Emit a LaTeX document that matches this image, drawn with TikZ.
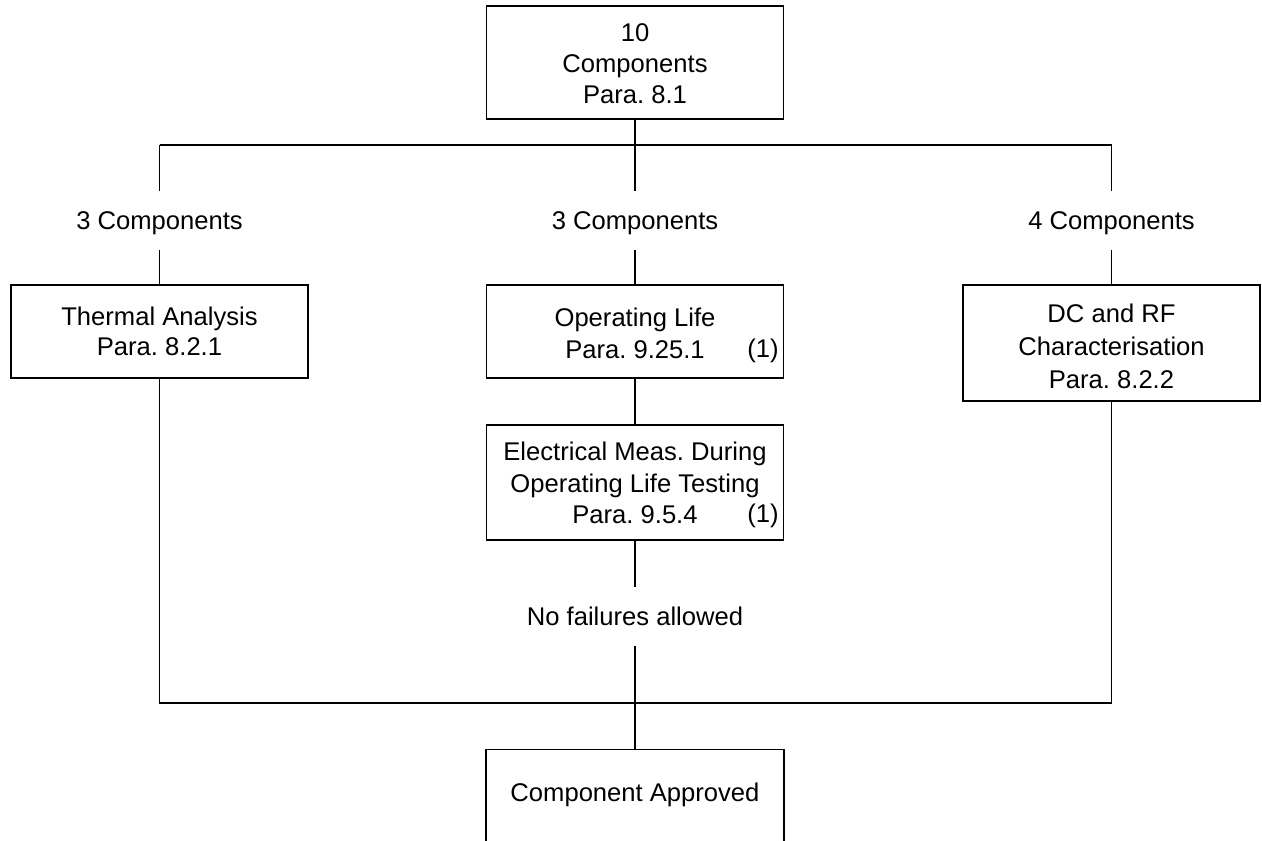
\documentclass[tikz,border=0pt]{standalone}
\usepackage{fontspec}
\setmainfont{Liberation Sans}
\frenchspacing
\begin{document}
\begin{tikzpicture}[x=1pt,y=-1pt,
  line width=1.4pt,
  boxnode/.style={draw, line width=1.5pt, minimum width=297pt, inner sep=0pt},
  txt/.style={inner sep=0pt, align=center, anchor=north, text depth=0pt},
  lbl/.style={inner sep=0pt, minimum height=57pt, text depth=0pt, font=\fontsize{25.6}{31}\selectfont},
  refmark/.style={inner sep=0pt, anchor=base, font=\fontsize{25.6}{31}\selectfont}]
\useasboundingbox (0,0) rectangle (1262,841);

% boxes
\node[boxnode, minimum height=113pt] (top) at (635,62.5) {};
\node[boxnode, minimum height=93pt] (thermal) at (159.5,331.5) {};
\node[boxnode, minimum height=93pt] (oplife) at (635,331.5) {};
\node[boxnode, minimum height=116pt] (rf) at (1111.5,343) {};
\node[boxnode, minimum height=115pt] (elec) at (635,482.5) {};
\node[inner sep=0pt, minimum width=297pt, minimum height=91pt, text depth=7pt,
      font=\fontsize{25.6}{31}\selectfont] (appr) at (635,795.5) {Component Approved};
\draw[line width=1.5pt] (appr.south west) |- (appr.north east) -- (appr.south east);

% box texts
\node[txt, font=\fontsize{25.6}{31}\selectfont] (ttop) at (635,22.7) {10\\Components\\Para. 8.1};
\node[txt, font=\fontsize{25.6}{30.7}\selectfont] (tthermal) at (159.5,306) {Thermal Analysis\\Para. 8.2.1};
\node[txt, font=\fontsize{25.6}{32}\selectfont] (toplife) at (635,307) {Operating Life\\Para. 9.25.1};
\node[txt, font=\fontsize{25.6}{32.8}\selectfont] (trf) at (1111.5,303.3) {DC and RF\\Characterisation\\Para. 8.2.2};
\node[txt, font=\fontsize{25.6}{31.5}\selectfont] (telec) at (635,441.7) {Electrical Meas. During\\Operating Life Testing\\Para. 9.5.4};
\node[refmark] (ref1) at (763,357.5) {(1)};
\node[refmark] (ref2) at (763,522.5) {(1)};

% labels
\node[lbl] (lblL) at (159.5,220.5) {3 Components};
\node[lbl] (lblM) at (635,220.5) {3 Components};
\node[lbl] (lblR) at (1111.5,220.5) {4 Components};
\node[lbl] (nofail) at (635,616.5) {No failures allowed};

% bus coordinates
\coordinate (busL) at (159.5,145);
\coordinate (busM) at (635,145);
\coordinate (busR) at (1111.5,145);
\coordinate (bbL) at (159.5,703);
\coordinate (bbR) at (1111.5,703);

% connectors
\draw (top.south) -- (busM);
\draw (busL) -- (busR);
\draw (busL) -- (lblL.north);
\draw (busM) -- (lblM.north);
\draw (busR) -- (lblR.north);
\draw (lblL.south) -- (thermal.north);
\draw (lblM.south) -- (oplife.north);
\draw (lblR.south) -- (rf.north);
\draw (oplife.south) -- (elec.north);
\draw (elec.south) -- (nofail.north);
\draw (thermal.south) -- (bbL) -- (bbR) -- (rf.south);
\draw (nofail.south) -- (appr.north);
\end{tikzpicture}
\end{document}
